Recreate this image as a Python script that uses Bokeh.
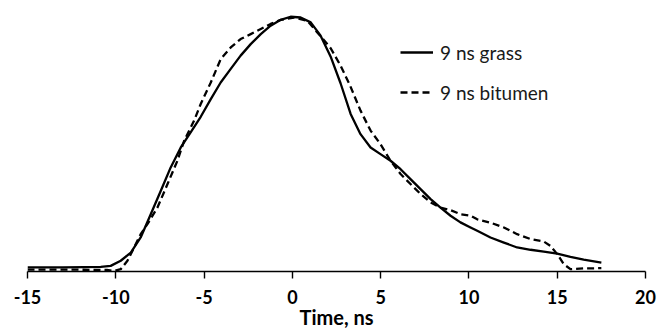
from bokeh.plotting import figure
from bokeh.models import Range1d, FixedTicker, Legend, LegendItem
from bokeh.embed import file_html
from bokeh.resources import INLINE

# Time, ns
grass_t = [-15.0, -13.0, -11.8, -10.85, -10.29, -9.72, -9.15, -8.59, -8.02, -7.45, -6.89,
           -6.32, -5.76, -5.19, -4.62, -4.06, -3.49, -2.93, -2.36, -1.79, -1.23, -0.66,
           -0.10, 0.47, 1.04, 1.60, 2.17, 2.73, 3.30, 3.86, 4.43, 4.99, 5.56, 6.13, 6.69,
           7.26, 7.83, 8.39, 8.96, 9.52, 10.09, 10.47, 11.22, 11.98, 12.73, 13.49, 14.24,
           15.0, 15.75, 16.50, 17.5]
grass_v = [0.016, 0.016, 0.017, 0.018, 0.022, 0.042, 0.074, 0.133, 0.224, 0.316, 0.407,
           0.485, 0.544, 0.605, 0.674, 0.739, 0.792, 0.844, 0.889, 0.928, 0.961, 0.984,
           0.996, 0.993, 0.974, 0.922, 0.840, 0.736, 0.616, 0.537, 0.485, 0.459, 0.433,
           0.400, 0.361, 0.322, 0.283, 0.250, 0.218, 0.192, 0.172, 0.159, 0.133, 0.113,
           0.094, 0.085, 0.078, 0.070, 0.057, 0.046, 0.035]

bitumen_t = [-15.0, -12.0, -10.5, -10.1, -9.72, -9.34, -8.96, -8.59, -8.21, -7.64, -7.07,
             -6.51, -6.13, -5.57, -5.19, -4.62, -4.06, -3.49, -2.93, -2.36, -1.79, -1.23,
             -0.66, 0.09, 0.85, 1.60, 2.17, 2.73, 3.25, 3.86, 4.43, 4.99, 5.56, 6.13, 6.69,
             7.26, 7.83, 8.39, 8.96, 9.52, 10.09, 10.47, 11.22, 11.98, 12.73, 13.49, 14.24,
             14.62, 15.0, 15.37, 15.75, 16.50, 17.5]
bitumen_v = [0.007, 0.007, 0.006, 0.002, 0.009, 0.042, 0.094, 0.146, 0.185, 0.250, 0.342,
             0.433, 0.511, 0.589, 0.655, 0.739, 0.830, 0.876, 0.909, 0.928, 0.948, 0.968,
             0.984, 0.993, 0.980, 0.920, 0.873, 0.805, 0.730, 0.629, 0.551, 0.498, 0.433,
             0.381, 0.342, 0.303, 0.270, 0.250, 0.240, 0.224, 0.218, 0.204, 0.191, 0.172,
             0.146, 0.127, 0.117, 0.100, 0.068, 0.029, 0.009, 0.012, 0.013]

x_ticks = [-15, -10, -5, 0, 5, 10, 15, 20]
x_tick_labels = ["-15", "-10", "-5", "0", "5", "10", "15", "20"]
series_labels = ["9 ns grass", "9 ns bitumen"]
x_title = "Time, ns"

FONT = "Lato"

p = figure(width=659, height=334, output_backend="svg", toolbar_location=None,
           x_range=Range1d(-15, 20), y_range=Range1d(0, 1.04),
           min_border_left=27, min_border_right=14, min_border_top=5, min_border_bottom=63)
p.outline_line_color = None
p.grid.visible = False
p.yaxis.visible = False

r1 = p.line(grass_t, grass_v, line_color="black", line_width=2.3, line_join="round")
r2 = p.line(bitumen_t, bitumen_v, line_color="black", line_width=2.3, line_dash="7 4",
            line_join="round")

ax = p.xaxis[0]
ax.ticker = FixedTicker(ticks=x_ticks)
ax.major_label_overrides = {t: s for t, s in zip(x_ticks, x_tick_labels)}
ax.axis_line_color = "black"
ax.axis_line_width = 1.4
ax.major_tick_line_color = "black"
ax.major_tick_line_width = 1.4
ax.major_tick_in = 0
ax.major_tick_out = 7
ax.minor_tick_line_color = None
ax.major_label_text_font = FONT
ax.major_label_text_font_style = "bold"
ax.major_label_text_font_size = "18px"
ax.major_label_text_color = "black"
ax.major_label_standoff = 11
ax.axis_label = x_title
ax.axis_label_text_font = FONT
ax.axis_label_text_font_style = "bold"
ax.axis_label_text_font_size = "20px"
ax.axis_label_text_color = "black"
ax.axis_label_standoff = -2

legend = Legend(items=[LegendItem(label=series_labels[0], renderers=[r1]),
                       LegendItem(label=series_labels[1], renderers=[r2])],
                location=(373, 167), orientation="vertical",
                border_line_color=None, background_fill_alpha=0,
                padding=0, margin=0, spacing=16, glyph_width=33, glyph_height=24,
                label_height=24, label_standoff=7,
                label_text_font=FONT, label_text_font_size="19px", label_text_color="#1a1a1a")
p.add_layout(legend, "center")

open("out.html", "w").write(file_html(p, INLINE))
